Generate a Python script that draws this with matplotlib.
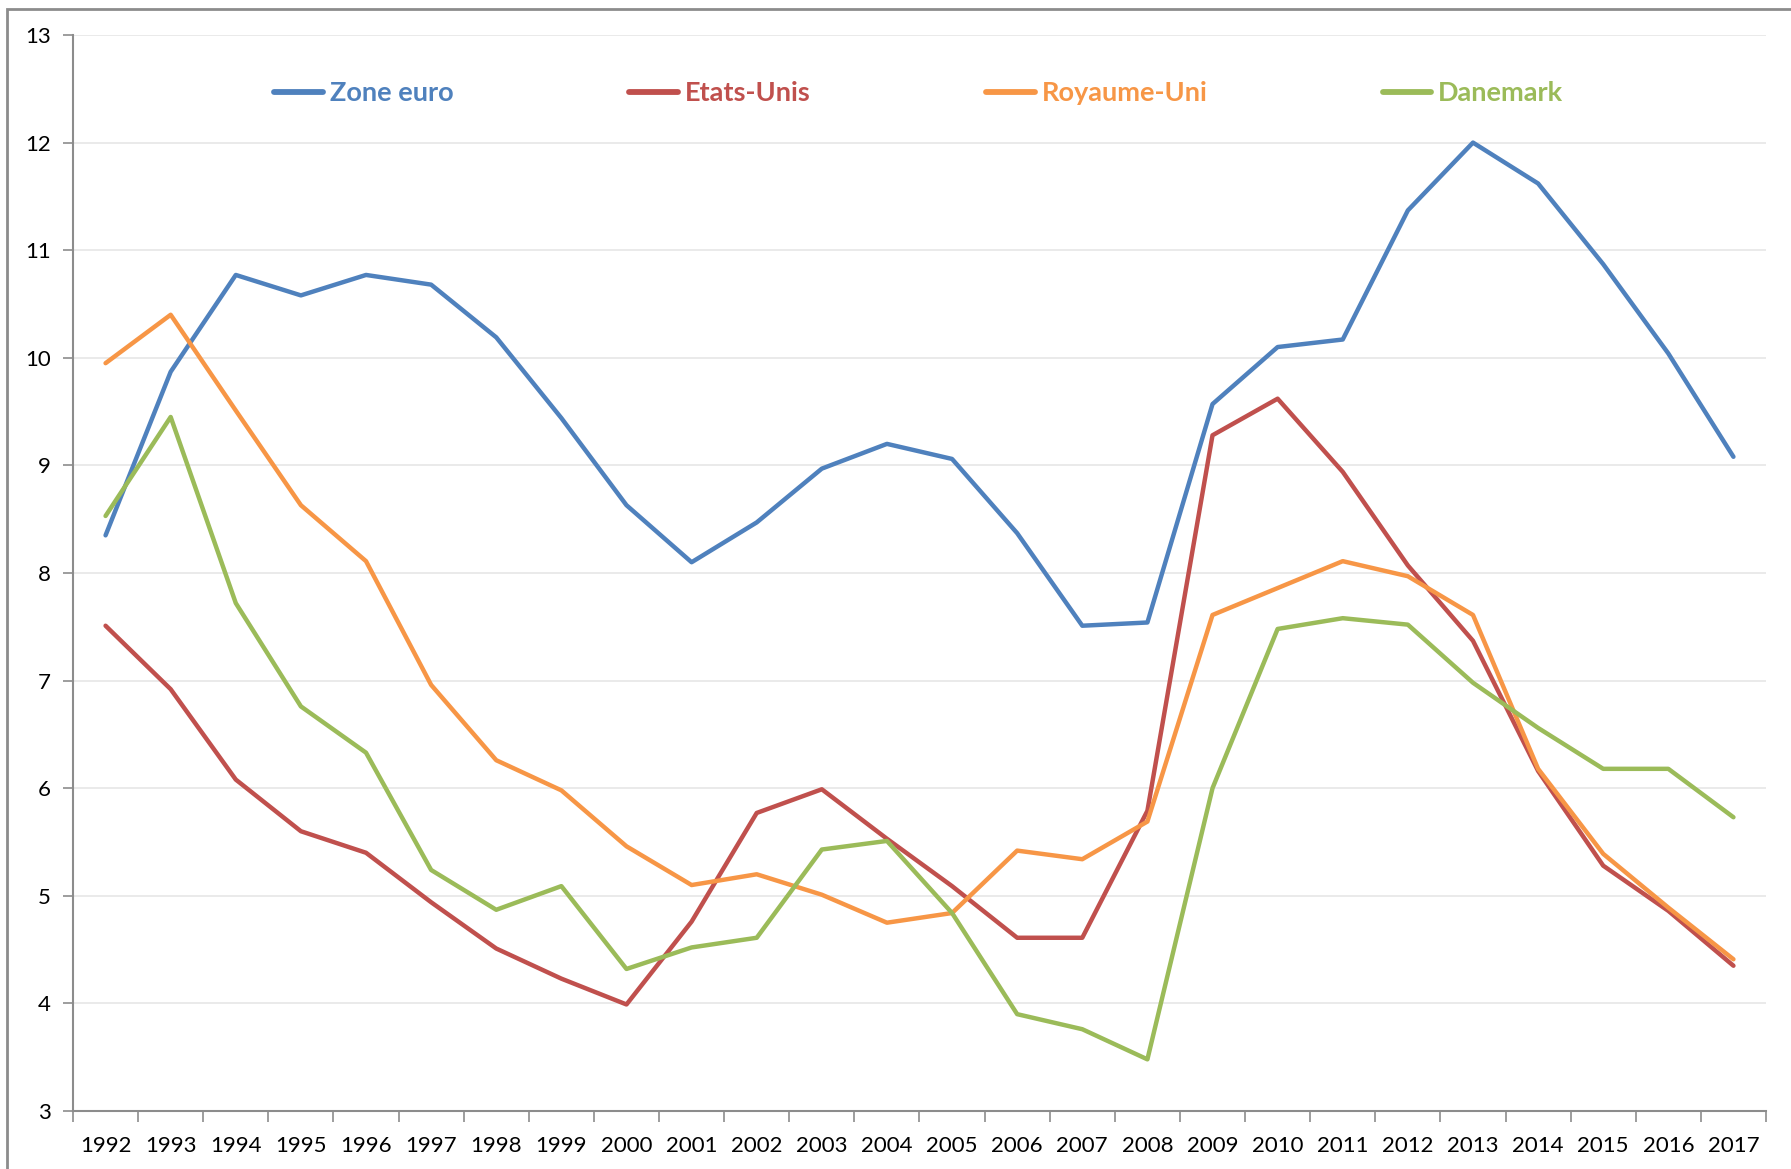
import numpy as np
import matplotlib.pyplot as plt
from matplotlib.patches import Rectangle

# -----------------------------
# Data
# -----------------------------
years = list(range(1992, 2018))

zone_euro = [8.35, 9.87, 10.77, 10.58, 10.77, 10.68, 10.19, 9.44, 8.63, 8.10,
             8.47, 8.97, 9.20, 9.06, 8.37, 7.51, 7.54, 9.57, 10.10, 10.17,
             11.37, 12.00, 11.62, 10.87, 10.04, 9.08]
etats_unis = [7.51, 6.92, 6.08, 5.60, 5.40, 4.94, 4.51, 4.23, 3.99, 4.76,
              5.77, 5.99, 5.53, 5.09, 4.61, 4.61, 5.79, 9.28, 9.62, 8.94,
              8.07, 7.37, 6.16, 5.28, 4.86, 4.35]
royaume_uni = [9.95, 10.40, 9.51, 8.63, 8.11, 6.96, 6.26, 5.98, 5.46, 5.10,
               5.20, 5.01, 4.75, 4.84, 5.42, 5.34, 5.69, 7.61, 7.86, 8.11,
               7.97, 7.61, 6.18, 5.39, 4.89, 4.41]
danemark = [8.53, 9.45, 7.72, 6.76, 6.33, 5.24, 4.87, 5.09, 4.32, 4.52,
            4.61, 5.43, 5.51, 4.84, 3.90, 3.76, 3.48, 6.00, 7.48, 7.58,
            7.52, 6.98, 6.56, 6.18, 6.18, 5.73]

series = [
    ("Zone euro", zone_euro, "#4F81BD"),
    ("Etats-Unis", etats_unis, "#C0504D"),
    ("Royaume-Uni", royaume_uni, "#F79646"),
    ("Danemark", danemark, "#9BBB59"),
]

plt.rcParams['font.family'] = ['Lato', 'DejaVu Sans']

# -----------------------------
# Figure
# -----------------------------
fig = plt.figure(figsize=(17.91, 11.69), dpi=100)
ax = fig.add_axes([73 / 1791, 1 - 1111 / 1169, 1693 / 1791, 1076 / 1169])

# chart area border
fig.patches.append(Rectangle((7 / 1791, -0.01), 1.0, 1 - 9 / 1169 + 0.01,
                             transform=fig.transFigure, fill=False,
                             edgecolor="#8c8c8c", linewidth=2, zorder=0))

x = np.arange(len(years))
for name, vals, col in series:
    ax.plot(x, vals, color=col, linewidth=3.2, label=name,
            solid_capstyle="round", solid_joinstyle="round")

ax.set_xlim(-0.5, len(years) - 0.5)
ax.set_ylim(3, 13)
ax.set_yticks(range(3, 14))
ax.yaxis.grid(True, color="#e6e6e6", linewidth=1.2)
ax.set_axisbelow(True)

# category ticks between years, labels centered
ax.set_xticks(np.arange(len(years) + 1) - 0.5)
ax.set_xticklabels([])
ax.set_xticks(x, minor=True)
ax.set_xticklabels([str(y) for y in years], minor=True)
ax.tick_params(axis="x", which="minor", length=0, pad=18, labelsize=16)
ax.tick_params(axis="x", which="major", length=8, width=1.2,
               color="#8c8c8c", direction="out")
ax.tick_params(axis="y", length=7, width=1.2, color="#8c8c8c",
               labelsize=16, pad=9)

for s in ["top", "right"]:
    ax.spines[s].set_visible(False)
for s in ["left", "bottom"]:
    ax.spines[s].set_color("#8c8c8c")
    ax.spines[s].set_linewidth(1.5)

leg = ax.legend(loc="center left", bbox_to_anchor=(0.119, 0.946), ncol=4,
                frameon=False, borderpad=0, borderaxespad=0,
                handlelength=1.8, handletextpad=0.25, columnspacing=6.48,
                prop={"size": 19.5, "weight": "bold"}, labelcolor="linecolor")
for h in leg.get_lines():
    h.set_linewidth(4.2)

fig.savefig("out.png", dpi=100)
